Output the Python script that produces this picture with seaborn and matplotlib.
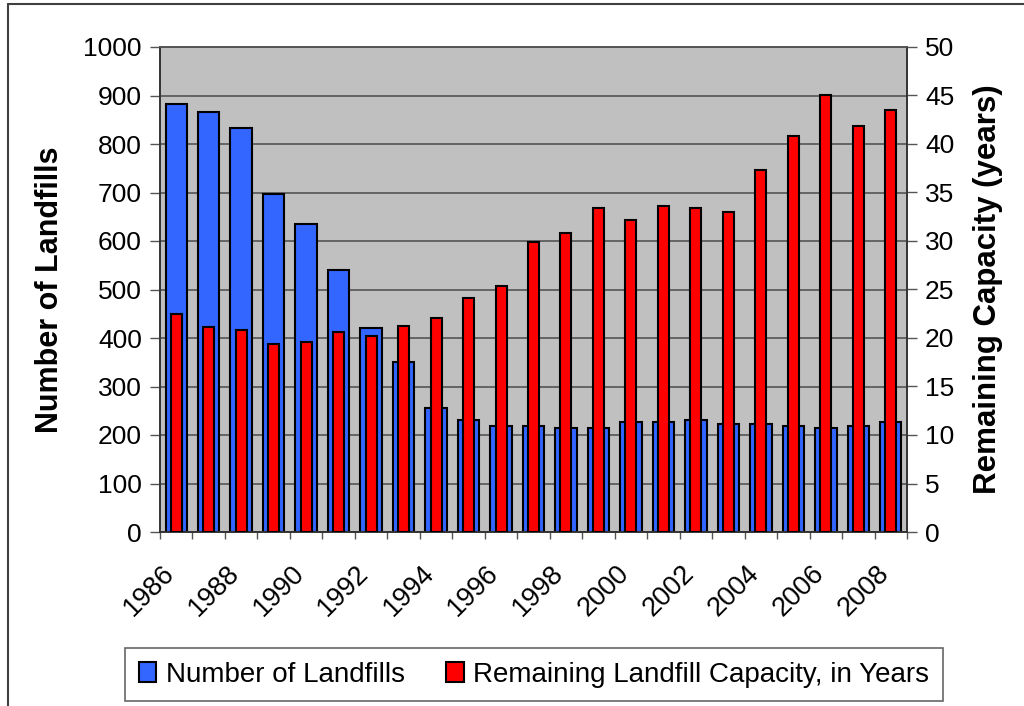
import numpy as np
import pandas as pd
import matplotlib
matplotlib.use("Agg")
import matplotlib.pyplot as plt
import matplotlib.transforms as mtransforms
from matplotlib.patches import Patch
from matplotlib.lines import Line2D
import seaborn as sns

# data
years = [str(y) for y in range(1986, 2009)]
landfills = [883, 867, 833, 697, 636, 541, 421, 351, 256, 231, 218, 218,
             214, 214, 226, 226, 231, 222, 222, 218, 214, 218, 226]
capacity_years = [22.5, 21.1, 20.8, 19.4, 19.6, 20.6, 20.2, 21.2, 22.1, 24.1,
                  25.4, 29.9, 30.8, 33.4, 32.2, 33.6, 33.4, 33.0, 37.3, 40.8,
                  45.0, 41.9, 43.5]

df = pd.DataFrame({"year": years, "landfills": landfills, "capacity": capacity_years})

sns.set_style("white")
plt.rcParams["font.family"] = ["Liberation Sans", "DejaVu Sans"]
plt.rcParams["text.color"] = "black"
plt.rcParams["axes.labelcolor"] = "black"
plt.rcParams["xtick.color"] = "black"
plt.rcParams["ytick.color"] = "black"

BLUE = "#3366FF"
RED = "#FF0000"
GRID = "#555555"

fig = plt.figure(figsize=(10.24, 7.06), dpi=100)
ax = fig.add_axes([160 / 1024, 1 - 532 / 706, 747 / 1024, 485 / 706])
ax.set_facecolor("#C0C0C0")

sns.barplot(data=df, x="year", y="landfills", color=BLUE, saturation=1,
            width=0.66, edgecolor="black", linewidth=1.5, ax=ax, zorder=2)

ax2 = ax.twinx()
sns.barplot(data=df, x="year", y="capacity", color=RED, saturation=1,
            width=0.34, edgecolor="black", linewidth=1.5, ax=ax2, zorder=3)

# left axis
ax.set_ylim(0, 1000)
ax.set_yticks(np.arange(0, 1001, 100))
ax.yaxis.grid(True, color=GRID, linewidth=1.2, zorder=0)
ax.set_axisbelow(True)
ax.tick_params(axis="y", direction="out", length=7, width=1, color=GRID,
               labelcolor="black", labelsize=19, pad=6, left=True)

# right axis
ax2.set_ylim(0, 50)
ax2.set_yticks(np.arange(0, 51, 5))
ax2.tick_params(axis="y", direction="out", length=7, width=1, color=GRID,
                labelcolor="black", labelsize=19, pad=6, right=True)

# x axis: tick marks between categories, labels every other year
ax.set_xlim(-0.5, len(years) - 0.5)
ax.set_xticks(np.arange(0, len(years), 2))
ax.set_xticklabels(years[::2])
ax.set_xticks(np.arange(-0.5, len(years), 1), minor=True)
ax.tick_params(axis="x", which="major", length=0, labelsize=19.5, pad=27,
               labelcolor="black")
ax.tick_params(axis="x", which="minor", direction="out", length=5, width=1,
               color=GRID, bottom=True)
shift = mtransforms.ScaledTranslation(-0.06, 0, fig.dpi_scale_trans)
for lbl in ax.get_xticklabels():
    lbl.set_rotation(45)
    lbl.set_rotation_mode("anchor")
    lbl.set_ha("right")
    lbl.set_va("center")
    lbl.set_transform(lbl.get_transform() + shift)

ax.set_xlabel("")
ax.set_ylabel("Number of Landfills", fontsize=22, fontweight="bold")
ax.yaxis.set_label_coords(-0.127, 0.5)
ax2.set_ylabel("Remaining Capacity (years)", fontsize=22.5, fontweight="bold")
ax2.yaxis.set_label_coords(1.088, 0.5)

for a in (ax, ax2):
    for side in ("left", "right", "bottom"):
        a.spines[side].set_color("#333333")
        a.spines[side].set_linewidth(1.2)
    a.spines["top"].set_color(GRID)
    a.spines["top"].set_linewidth(1.2)

# legend
handles = [Patch(facecolor=BLUE, edgecolor="black", linewidth=1.5),
           Patch(facecolor=RED, edgecolor="black", linewidth=1.5)]
leg = fig.legend(handles, ["Number of Landfills",
                           "Remaining Landfill Capacity, in Years"],
                 loc="center", bbox_to_anchor=(534 / 1024, 1 - 674.5 / 706),
                 ncol=2, fontsize=20, frameon=True, fancybox=False,
                 handlelength=0.62, handleheight=0.7, handletextpad=0.35,
                 columnspacing=1.5, borderpad=0.5)
leg.get_frame().set_edgecolor("#404040")
leg.get_frame().set_linewidth(1.2)
for t in leg.get_texts():
    t.set_color("black")

# outer chart border (top and left edges visible)
fig.add_artist(Line2D([8 / 1024, 1], [1 - 4 / 706, 1 - 4 / 706],
                      transform=fig.transFigure, color="#404040", linewidth=1.5))
fig.add_artist(Line2D([8 / 1024, 8 / 1024], [0, 1 - 4 / 706],
                      transform=fig.transFigure, color="#404040", linewidth=1.5))

fig.savefig("out.png", dpi=100)
plt.close(fig)
